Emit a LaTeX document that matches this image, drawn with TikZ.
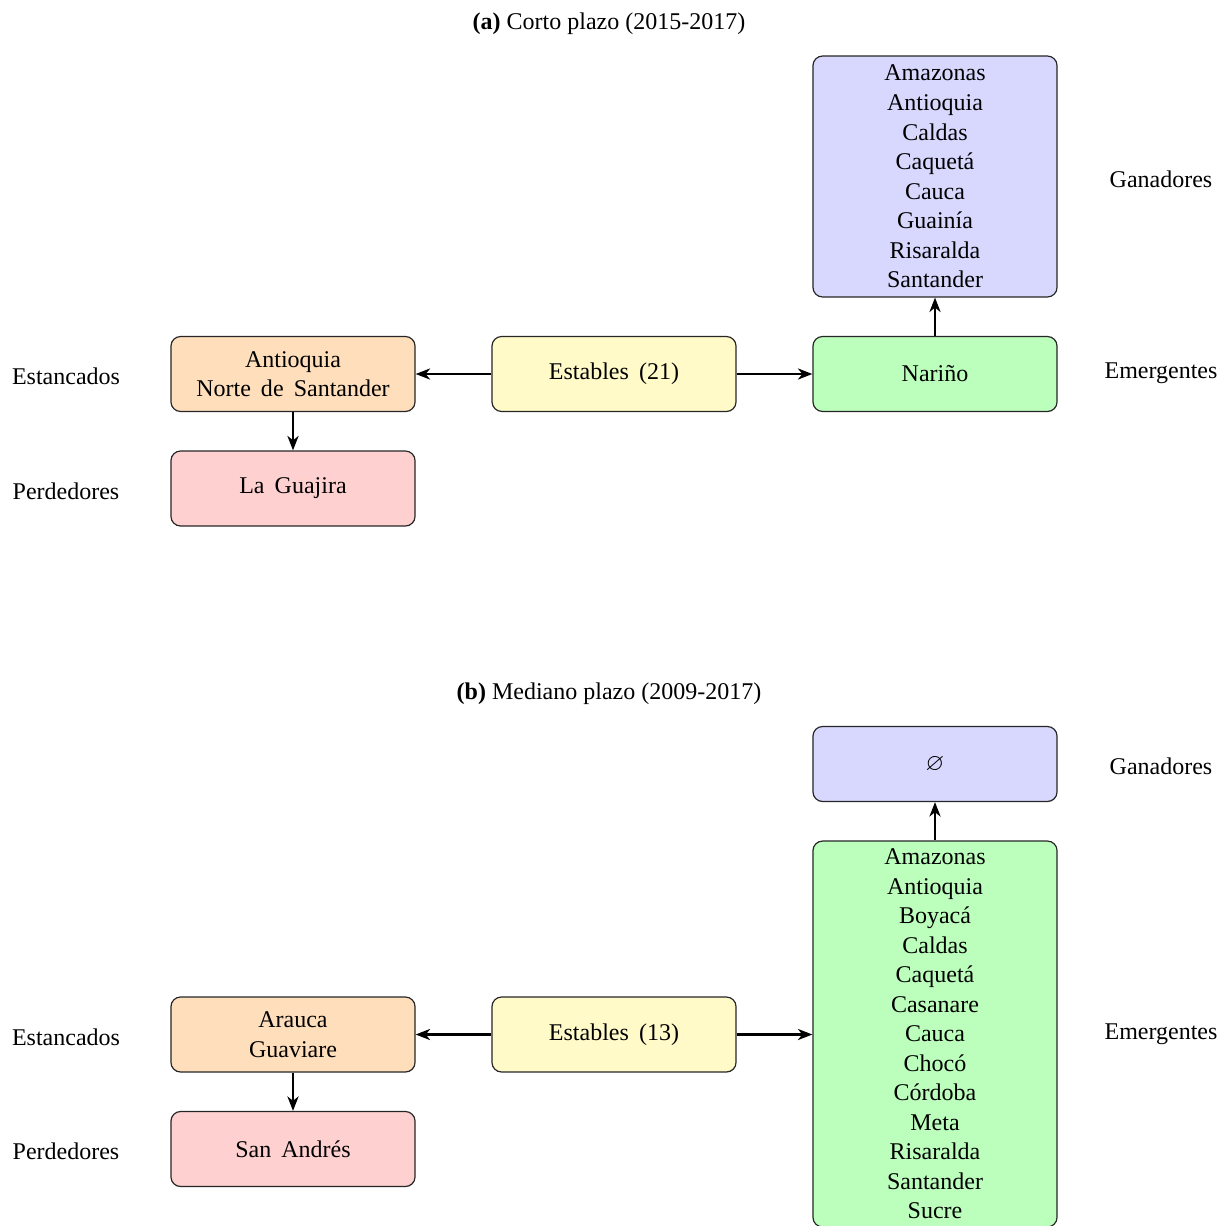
\documentclass[tikz,border=0pt]{standalone}
\usepackage{amssymb}
\usepackage{fontspec}
\setmainfont{Liberation Serif}
\newfontfamily\boxserif{Liberation Serif}
\newcommand{\boxfontsetup}{\boxserif\fontsize{10pt}{12.3pt}\selectfont\spaceskip=4.2pt plus 1pt minus 1pt\relax}
\newcommand{\lblfontsetup}{\boxserif\fontsize{10pt}{12pt}\selectfont}
\usetikzlibrary{arrows.meta}
\definecolor{cblue}{RGB}{216,216,255}
\definecolor{cgreen}{RGB}{188,255,188}
\definecolor{cyellow}{RGB}{255,250,200}
\definecolor{corange}{RGB}{255,222,188}
\definecolor{cred}{RGB}{255,208,208}
\begin{document}
\begin{tikzpicture}[x=0.41667pt,y=-0.41667pt,
  box/.style={draw=black!85, line width=0.5pt, rounded corners=4pt,
    minimum width=101.7pt, minimum height=31.25pt, align=center,
    font=\boxfontsetup, inner sep=0pt},
  lbl/.style={font=\lblfontsetup, inner sep=0pt},
  arr/.style={line width=1.1pt, -{Stealth[length=6pt,width=4.6pt,inset=1.8pt]}}
]
\useasboundingbox (0,0) rectangle (1222,1226);

% ---------- (a) ----------
\node[lbl] (ta) at (609,24) {\textbf{(a)} Corto plazo (2015-2017)};
\node[box, fill=cblue, minimum height=100.4pt] (ga) at (935,176.5)
  {Amazonas\\Antioquia\\Caldas\\Caquetá\\Cauca\\Guainía\\Risaralda\\Santander};
\node[box, fill=cgreen] (ea) at (935,374) {Nariño};
\node[box, fill=cyellow] (sa) at (614,374) {Estables (21)};
\node[box, fill=corange] (sta) at (293,374) {Antioquia\\Norte de Santander};
\node[box, fill=cred] (pa) at (293,488.5) {La Guajira};
\node[lbl] (lga) at (1161,179) {Ganadores};
\node[lbl] (lea) at (1161,373) {Emergentes};
\node[lbl] (lsa) at (66,376) {Estancados};
\node[lbl] (lpa) at (66,491) {Perdedores};
\draw[arr] (sa) -- (sta);
\draw[arr] (sa) -- (ea);
\draw[arr] (sta) -- (pa);
\draw[arr] (ea) -- (ga);

% ---------- (b) ----------
\node[lbl] (tb) at (609,694) {\textbf{(b)} Mediano plazo (2009-2017)};
\node[box, fill=cblue] (gb) at (935,764) {$\varnothing$};
\node[box, fill=cgreen, minimum height=160.8pt] (eb) at (935,1034)
  {Amazonas\\Antioquia\\Boyacá\\Caldas\\Caquetá\\Casanare\\Cauca\\Chocó\\Córdoba\\Meta\\Risaralda\\Santander\\Sucre};
\node[box, fill=cyellow] (sb) at (614,1034.5) {Estables (13)};
\node[box, fill=corange] (stb) at (293,1034.5) {Arauca\\Guaviare};
\node[box, fill=cred] (pb) at (293,1149) {San Andrés};
\node[lbl] (lgb) at (1161,766) {Ganadores};
\node[lbl] (leb) at (1161,1034) {Emergentes};
\node[lbl] (lsb) at (66,1037) {Estancados};
\node[lbl] (lpb) at (66,1151) {Perdedores};
\draw[arr] (sb) -- (stb);
\draw[arr] (sb) -- (sb -| eb.west);
\draw[arr] (stb) -- (pb);
\draw[arr] (eb) -- (gb);
\end{tikzpicture}
\end{document}
